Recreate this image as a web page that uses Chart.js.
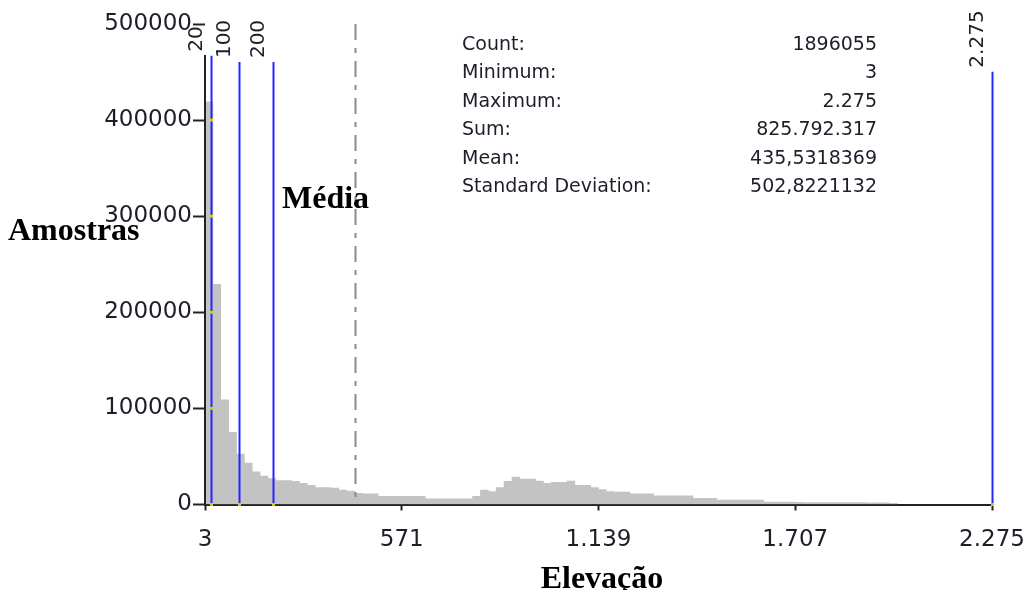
<!DOCTYPE html>
<html>
<head>
<meta charset="utf-8">
<script src="https://cdn.jsdelivr.net/npm/chart.js@4/dist/chart.umd.min.js"></script>
<style>
  html, body { margin: 0; padding: 0; background: #ffffff; }
  #wrap { width: 1029px; height: 590px; }
</style>
</head>
<body>
<div id="wrap"><canvas id="hist" width="1029" height="590"></canvas></div>
<script>
// Elevation histogram: 100 equal bins between the minimum and maximum elevation
const binStart = 3;
const binEnd = 2275;
const binWidth = 22.72;

// Number of samples per bin (bins after the last entry are empty)
const binCounts = [
  419000, 229000, 109000, 75000, 52500, 43000, 34000, 29500, 27000, 25000,
  24800, 24000, 22000, 20000, 17500, 17500, 17000, 15000, 14000, 11500,
  11000, 11000, 8500, 8500, 8500, 8500, 8500, 8500, 6000, 6000,
  6000, 6000, 6000, 6000, 8500, 15000, 13500, 17500, 24000, 28500,
  26500, 26500, 24500, 22000, 23000, 23000, 24500, 20000, 20000, 17500,
  15500, 13500, 13000, 13000, 11000, 11000, 11000, 9000, 9000, 9000,
  9000, 9000, 6500, 6500, 6500, 4500, 4500, 4500, 4500, 4500,
  4500, 2500, 2500, 2500, 2500, 2200, 2000, 2000, 2000, 2000,
  2000, 2000, 2000, 2000, 1800, 1800, 1800, 1200
];

// Axis ticks
const xTickValues = [3, 571, 1139, 1707, 2275];
const xTickLabels = ['3', '571', '1.139', '1.707', '2.275'];
const yMax = 500000;
const yStep = 100000;

// Class break lines and the mean line
const breakValues = [20, 100, 200, 2275];
const breakLabels = ['20', '100', '200', '2.275'];
const meanValue = 435.5318369;

// Summary statistics panel
const statNames = ['Count:', 'Minimum:', 'Maximum:', 'Sum:', 'Mean:', 'Standard Deviation:'];
const statValues = ['1896055', '3', '2.275', '825.792.317', '435,5318369', '502,8221132'];

const points = binCounts.map((c, i) => ({ x: binStart + binWidth * (i + 0.5), y: c }));

const overlay = {
  id: 'overlay',
  afterDatasetsDraw(chart) {
    const ctx = chart.ctx;
    const xs = chart.scales.x;
    const ys = chart.scales.y;
    const area = chart.chartArea;
    ctx.save();

    // vertical axis line
    ctx.strokeStyle = '#222222';
    ctx.lineWidth = 2;
    ctx.beginPath();
    ctx.moveTo(area.left, 55);
    ctx.lineTo(area.left, area.bottom + 1);
    ctx.stroke();

    // mean line (dash-dot)
    const mx = Math.round(xs.getPixelForValue(meanValue)) + 0.5;
    ctx.strokeStyle = '#8a8a8a';
    ctx.lineWidth = 2;
    ctx.setLineDash([16, 8, 5, 8]);
    ctx.beginPath();
    ctx.moveTo(mx, area.top);
    ctx.lineTo(mx, area.bottom);
    ctx.stroke();
    ctx.setLineDash([]);

    // class break lines with rotated labels
    ctx.font = '20px "DejaVu Sans"';
    ctx.textAlign = 'center';
    ctx.textBaseline = 'middle';
    breakValues.forEach((v, i) => {
      const px = Math.round(xs.getPixelForValue(v)) + 0.5;
      const w = ctx.measureText(breakLabels[i]).width;
      const labelY = 39;
      ctx.save();
      ctx.translate(px - 15, labelY);
      ctx.rotate(-Math.PI / 2);
      ctx.fillStyle = '#1e1e28';
      ctx.fillText(breakLabels[i], 0, 0);
      ctx.restore();
      ctx.strokeStyle = '#2424ff';
      ctx.lineWidth = 2;
      ctx.beginPath();
      ctx.moveTo(px, labelY + w / 2 + 4);
      ctx.lineTo(px, area.bottom);
      ctx.stroke();
      // small markers where the line meets the horizontal axis
      ctx.fillStyle = '#d2d200';
      ctx.fillRect(px - 1.5, area.bottom - 1.5, 3, 3);
    });

    // small markers along the first break line at each count tick
    const fx = Math.round(xs.getPixelForValue(breakValues[0])) + 0.5;
    ctx.fillStyle = '#d2d200';
    for (let v = yStep; v < yMax; v += yStep) {
      ctx.fillRect(fx - 1.5, ys.getPixelForValue(v) - 1.5, 3, 3);
    }

    // statistics panel
    ctx.font = '19px "DejaVu Sans"';
    ctx.fillStyle = '#1e1e2a';
    ctx.textBaseline = 'middle';
    statNames.forEach((name, i) => {
      const y = 45 + i * 28.4;
      ctx.textAlign = 'left';
      ctx.fillText(name, 462, y);
      ctx.textAlign = 'right';
      ctx.fillText(statValues[i], 877, y);
    });

    // titles
    ctx.font = 'bold 32px "Liberation Serif"';
    ctx.fillStyle = '#000000';
    ctx.textAlign = 'left';
    ctx.textBaseline = 'alphabetic';
    ctx.fillText('Média', 282, 208);
    ctx.fillText('Amostras', 8, 240);
    ctx.textAlign = 'center';
    ctx.fillText('Elevação', 602, 588);

    ctx.restore();
  }
};

new Chart(document.getElementById('hist'), {
  type: 'bar',
  data: {
    datasets: [{
      data: points,
      backgroundColor: '#c3c3c3',
      borderWidth: 0,
      barPercentage: 1,
      categoryPercentage: 1
    }]
  },
  options: {
    responsive: false,
    animation: false,
    layout: { padding: { top: 24, right: 37, left: 0, bottom: 0 } },
    plugins: { legend: { display: false }, tooltip: { enabled: false } },
    scales: {
      x: {
        type: 'linear',
        min: binStart,
        max: binEnd,
        offset: false,
        afterFit(scale) {
          scale.height = 85.5;
          scale.paddingLeft = 0;
          scale.paddingRight = 0;
        },
        afterBuildTicks(scale) { scale.ticks = xTickValues.map(v => ({ value: v })); },
        grid: {
          display: true,
          offset: false,
          drawOnChartArea: false,
          drawTicks: true,
          tickLength: 6,
          tickColor: '#222222',
          tickWidth: 2
        },
        border: { display: true, color: '#222222', width: 2 },
        ticks: {
          autoSkip: false,
          maxRotation: 0,
          padding: 16,
          color: '#1e1e28',
          font: { family: 'DejaVu Sans', size: 23 },
          callback(value) {
            const k = xTickValues.indexOf(value);
            return k >= 0 ? xTickLabels[k] : '';
          }
        }
      },
      y: {
        min: 0,
        max: yMax,
        afterFit(scale) {
          scale.width = 205;
          scale.paddingTop = 0;
          scale.paddingBottom = 0;
        },
        grid: {
          display: true,
          drawOnChartArea: false,
          drawTicks: true,
          tickLength: 12,
          tickColor: '#222222',
          tickWidth: 2
        },
        border: { display: false },
        ticks: {
          stepSize: yStep,
          padding: 1,
          color: '#1e1e28',
          font: { family: 'DejaVu Sans', size: 23 },
          callback(value) { return String(value); }
        }
      }
    }
  },
  plugins: [overlay]
});
</script>
</body>
</html>
